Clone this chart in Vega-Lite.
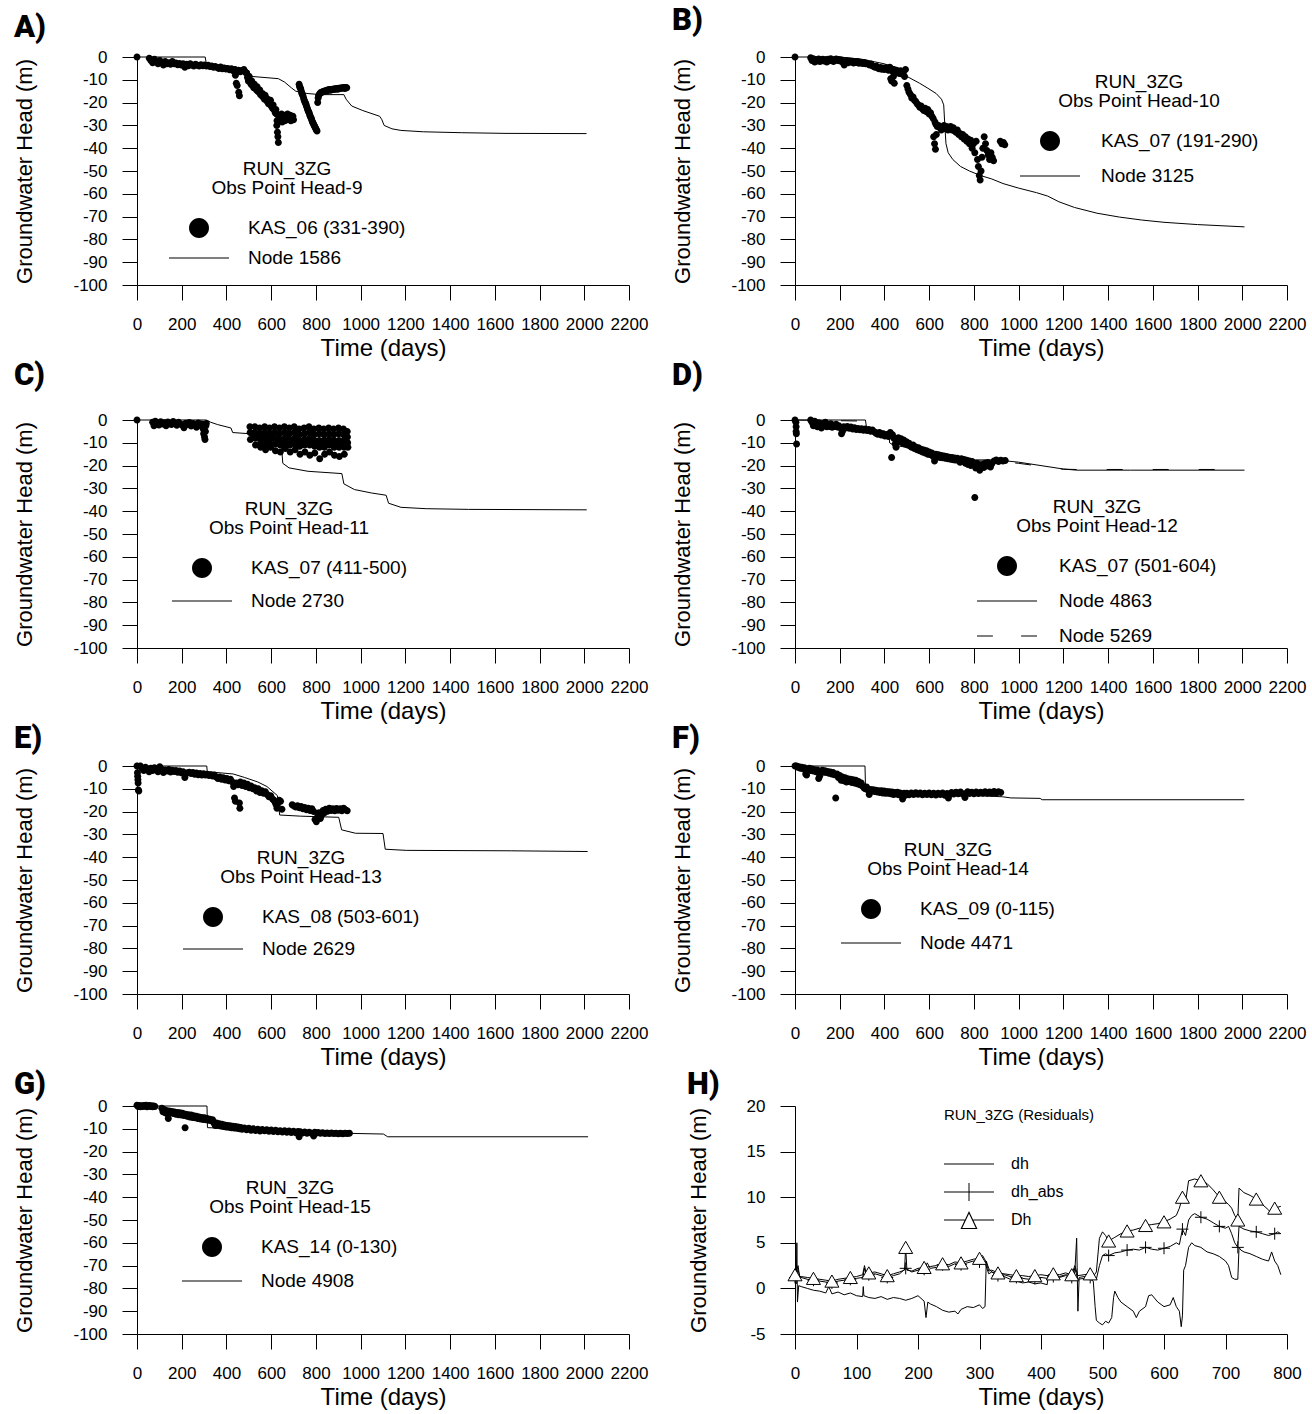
{
"$schema": "https://vega.github.io/schema/vega-lite/v6.json",
"background": "white",
"padding": {"left": 13, "top": 5, "right": 5, "bottom": 2},
"columns": 2,
"spacing": {"row": 0, "column": 23},
"resolve": {"scale": {"x": "independent", "y": "independent", "shape": "independent"}, "legend": {"shape": "independent"}},
"datasets": {
"A_mod": [{"t":0,"h":0},{"t":305,"h":0},{"t":310,"h":-3},{"t":400,"h":-4},{"t":480,"h":-5},{"t":500,"h":-6},{"t":510,"h":-8.5},{"t":632,"h":-9.5},{"t":660,"h":-11},{"t":690,"h":-13.5},{"t":710,"h":-15},{"t":760,"h":-16},{"t":820,"h":-16.5},{"t":925,"h":-16.5},{"t":935,"h":-18.5},{"t":960,"h":-21.5},{"t":1010,"h":-23.5},{"t":1085,"h":-26},{"t":1095,"h":-27.5},{"t":1105,"h":-30},{"t":1140,"h":-31.5},{"t":1180,"h":-32.2},{"t":1280,"h":-32.8},{"t":1450,"h":-33.2},{"t":1650,"h":-33.5},{"t":2010,"h":-33.6}],
"A_obs": [{"t":0,"h":0},{"t":55,"h":-0.5},{"t":62,"h":-1.5},{"t":70,"h":-2.5},{"t":78,"h":-1},{"t":86,"h":-2},{"t":94,"h":-3},{"t":102,"h":-1.5},{"t":110,"h":-2.5},{"t":118,"h":-3.5},{"t":126,"h":-2},{"t":134,"h":-3},{"t":142,"h":-2.5},{"t":150,"h":-3.2},{"t":158,"h":-2},{"t":166,"h":-3},{"t":174,"h":-2.6},{"t":182,"h":-3.4},{"t":190,"h":-2.8},{"t":198,"h":-3.5},{"t":206,"h":-3},{"t":214,"h":-4.5},{"t":222,"h":-3.2},{"t":230,"h":-3.8},{"t":238,"h":-3},{"t":246,"h":-3.5},{"t":254,"h":-3.9},{"t":262,"h":-3.2},{"t":270,"h":-3.6},{"t":278,"h":-4},{"t":286,"h":-3.4},{"t":294,"h":-3.8},{"t":302,"h":-3.5},{"t":310,"h":-4},{"t":318,"h":-3.6},{"t":326,"h":-4.2},{"t":334,"h":-4},{"t":342,"h":-4.5},{"t":350,"h":-4.2},{"t":358,"h":-4.6},{"t":366,"h":-5},{"t":374,"h":-4.4},{"t":382,"h":-5.2},{"t":390,"h":-4.8},{"t":398,"h":-5.3},{"t":406,"h":-5},{"t":414,"h":-5.6},{"t":422,"h":-5.2},{"t":430,"h":-6},{"t":438,"h":-5.5},{"t":440,"h":-8},{"t":444,"h":-11.5},{"t":446,"h":-6.3},{"t":448,"h":-12.5},{"t":454,"h":-5.8},{"t":455,"h":-15.5},{"t":458,"h":-17},{"t":462,"h":-6.5},{"t":470,"h":-6},{"t":478,"h":-5.5},{"t":486,"h":-6.8},{"t":490,"h":-7},{"t":494,"h":-9},{"t":498,"h":-10.5},{"t":502,"h":-8.5},{"t":506,"h":-11},{"t":510,"h":-12},{"t":513,"h":-10.5},{"t":516,"h":-12.5},{"t":522,"h":-13.5},{"t":525,"h":-12},{"t":528,"h":-13},{"t":534,"h":-14.5},{"t":537,"h":-13},{"t":540,"h":-15},{"t":546,"h":-15.5},{"t":549,"h":-14.5},{"t":552,"h":-16.5},{"t":558,"h":-17},{"t":561,"h":-16},{"t":564,"h":-17.5},{"t":570,"h":-18.5},{"t":573,"h":-16.8},{"t":576,"h":-18},{"t":582,"h":-19.5},{"t":585,"h":-18.5},{"t":588,"h":-20.5},{"t":594,"h":-20},{"t":597,"h":-19},{"t":600,"h":-21.5},{"t":606,"h":-22.5},{"t":609,"h":-21},{"t":612,"h":-23},{"t":618,"h":-24.5},{"t":621,"h":-23},{"t":624,"h":-25},{"t":625,"h":-30},{"t":626,"h":-28},{"t":628,"h":-33},{"t":630,"h":-35},{"t":632,"h":-37.5},{"t":634,"h":-26},{"t":637,"h":-28},{"t":640,"h":-26.5},{"t":646,"h":-25},{"t":649,"h":-28.5},{"t":652,"h":-27},{"t":658,"h":-25.5},{"t":661,"h":-28},{"t":664,"h":-26.5},{"t":670,"h":-27.5},{"t":673,"h":-25},{"t":676,"h":-26},{"t":682,"h":-27},{"t":685,"h":-25.5},{"t":688,"h":-28},{"t":694,"h":-27},{"t":697,"h":-26},{"t":700,"h":-27.5},{"t":725,"h":-12},{"t":727,"h":-13},{"t":730,"h":-13.5},{"t":732,"h":-14},{"t":735,"h":-15},{"t":737,"h":-16},{"t":740,"h":-16.5},{"t":742,"h":-17},{"t":745,"h":-18},{"t":747,"h":-18.8},{"t":750,"h":-19.5},{"t":752,"h":-20},{"t":755,"h":-20.5},{"t":757,"h":-21.3},{"t":760,"h":-22},{"t":762,"h":-22.8},{"t":765,"h":-23.5},{"t":767,"h":-24},{"t":770,"h":-24.5},{"t":772,"h":-25.3},{"t":775,"h":-26},{"t":777,"h":-26.5},{"t":780,"h":-27},{"t":782,"h":-27.8},{"t":785,"h":-28.5},{"t":787,"h":-29},{"t":790,"h":-29.5},{"t":792,"h":-30},{"t":795,"h":-30.5},{"t":797,"h":-31},{"t":800,"h":-31.5},{"t":802,"h":-32},{"t":805,"h":-32.5},{"t":808,"h":-20},{"t":810,"h":-18},{"t":812,"h":-17},{"t":815,"h":-16.5},{"t":818,"h":-16},{"t":822,"h":-15.6},{"t":826,"h":-15.5},{"t":830,"h":-15.2},{"t":834,"h":-15.2},{"t":838,"h":-14.9},{"t":842,"h":-15},{"t":846,"h":-14.7},{"t":850,"h":-14.8},{"t":854,"h":-14.4},{"t":858,"h":-14.5},{"t":862,"h":-14.3},{"t":866,"h":-14.6},{"t":870,"h":-14.2},{"t":874,"h":-14.3},{"t":878,"h":-14},{"t":882,"h":-14.2},{"t":886,"h":-13.9},{"t":890,"h":-14},{"t":894,"h":-13.8},{"t":898,"h":-14.1},{"t":902,"h":-13.7},{"t":906,"h":-13.8},{"t":910,"h":-13.6},{"t":914,"h":-13.7},{"t":918,"h":-13.5},{"t":922,"h":-13.6},{"t":926,"h":-13.4},{"t":930,"h":-13.8},{"t":934,"h":-13.4},{"t":938,"h":-13.5}],
"B_mod": [{"t":0,"h":0},{"t":200,"h":0},{"t":300,"h":-1},{"t":400,"h":-3},{"t":460,"h":-5},{"t":500,"h":-8.5},{"t":557,"h":-11.5},{"t":594,"h":-13.7},{"t":631,"h":-16},{"t":655,"h":-18.5},{"t":665,"h":-21},{"t":670,"h":-30},{"t":675,"h":-38},{"t":685,"h":-42},{"t":706,"h":-45},{"t":740,"h":-48},{"t":780,"h":-50},{"t":830,"h":-52},{"t":880,"h":-53.5},{"t":930,"h":-55.5},{"t":1000,"h":-57.5},{"t":1080,"h":-59.5},{"t":1130,"h":-61},{"t":1180,"h":-63.5},{"t":1250,"h":-66},{"t":1350,"h":-68.5},{"t":1450,"h":-70.2},{"t":1550,"h":-71.5},{"t":1650,"h":-72.5},{"t":1800,"h":-73.5},{"t":2010,"h":-74.5}],
"B_obs": [{"t":0,"h":0},{"t":70,"h":-0.3},{"t":76,"h":-1.5},{"t":82,"h":-0.8},{"t":88,"h":-2.2},{"t":94,"h":-1.2},{"t":100,"h":-1.8},{"t":106,"h":-0.9},{"t":112,"h":-2},{"t":118,"h":-1.4},{"t":124,"h":-1},{"t":130,"h":-1.8},{"t":136,"h":-1.2},{"t":142,"h":-2.2},{"t":148,"h":-1},{"t":154,"h":-1.6},{"t":160,"h":-0.8},{"t":166,"h":-1.4},{"t":172,"h":-2},{"t":178,"h":-1.2},{"t":184,"h":-0.9},{"t":190,"h":-1.5},{"t":196,"h":-1.1},{"t":202,"h":-1.8},{"t":208,"h":-1.3},{"t":214,"h":-2.4},{"t":220,"h":-3.5},{"t":226,"h":-2.2},{"t":232,"h":-1.6},{"t":238,"h":-2.5},{"t":244,"h":-1.8},{"t":250,"h":-2.2},{"t":256,"h":-1.9},{"t":262,"h":-2.6},{"t":268,"h":-2.1},{"t":274,"h":-2.4},{"t":280,"h":-2},{"t":286,"h":-2.7},{"t":292,"h":-2.3},{"t":298,"h":-2.6},{"t":304,"h":-2.8},{"t":310,"h":-2.4},{"t":316,"h":-3},{"t":322,"h":-2.7},{"t":328,"h":-3.2},{"t":334,"h":-3.5},{"t":340,"h":-3.1},{"t":346,"h":-3.8},{"t":352,"h":-4.2},{"t":358,"h":-4.5},{"t":364,"h":-4.1},{"t":370,"h":-4.8},{"t":376,"h":-5.2},{"t":382,"h":-4.6},{"t":388,"h":-5.4},{"t":394,"h":-4.8},{"t":400,"h":-5.5},{"t":406,"h":-4.7},{"t":412,"h":-5.2},{"t":418,"h":-5.8},{"t":424,"h":-4.5},{"t":428,"h":-9.5},{"t":430,"h":-5.1},{"t":432,"h":-10.5},{"t":436,"h":-6.2},{"t":440,"h":-8.5},{"t":442,"h":-5.5},{"t":444,"h":-11.5},{"t":448,"h":-7},{"t":454,"h":-5.8},{"t":460,"h":-6.5},{"t":466,"h":-7.2},{"t":472,"h":-6},{"t":478,"h":-7.5},{"t":484,"h":-6.8},{"t":490,"h":-8.5},{"t":494,"h":-5.5},{"t":500,"h":-12.5},{"t":505,"h":-14},{"t":510,"h":-15.5},{"t":516,"h":-16.5},{"t":522,"h":-18},{"t":528,"h":-17.5},{"t":534,"h":-19},{"t":540,"h":-19.5},{"t":546,"h":-20.5},{"t":552,"h":-21},{"t":558,"h":-22},{"t":564,"h":-21.5},{"t":570,"h":-22.8},{"t":576,"h":-23.5},{"t":582,"h":-22.5},{"t":588,"h":-24},{"t":594,"h":-23},{"t":600,"h":-25},{"t":606,"h":-24.5},{"t":612,"h":-26},{"t":618,"h":-27},{"t":620,"h":-35},{"t":624,"h":-38},{"t":626,"h":-28.5},{"t":628,"h":-40.5},{"t":630,"h":-29.5},{"t":632,"h":-34},{"t":636,"h":-30.5},{"t":642,"h":-30},{"t":648,"h":-31},{"t":654,"h":-32},{"t":660,"h":-31},{"t":666,"h":-30},{"t":672,"h":-31.5},{"t":678,"h":-30.5},{"t":684,"h":-32},{"t":690,"h":-31.5},{"t":696,"h":-30.5},{"t":702,"h":-32},{"t":708,"h":-31},{"t":714,"h":-32.5},{"t":720,"h":-33},{"t":726,"h":-32},{"t":732,"h":-34},{"t":738,"h":-33.5},{"t":744,"h":-35},{"t":750,"h":-34},{"t":756,"h":-36},{"t":762,"h":-35},{"t":768,"h":-37},{"t":774,"h":-36},{"t":780,"h":-38},{"t":786,"h":-36.5},{"t":792,"h":-40},{"t":798,"h":-38},{"t":804,"h":-42},{"t":810,"h":-37},{"t":816,"h":-45},{"t":820,"h":-48},{"t":824,"h":-52},{"t":828,"h":-54},{"t":832,"h":-50},{"t":836,"h":-44},{"t":840,"h":-40},{"t":846,"h":-35},{"t":852,"h":-38},{"t":858,"h":-41},{"t":864,"h":-43},{"t":870,"h":-45},{"t":876,"h":-42},{"t":882,"h":-44},{"t":888,"h":-45.5},{"t":918,"h":-37},{"t":925,"h":-38},{"t":932,"h":-37.5},{"t":938,"h":-38.5}],
"C_mod": [{"t":0,"h":0},{"t":310,"h":0},{"t":330,"h":-1},{"t":360,"h":-2},{"t":420,"h":-3.5},{"t":428,"h":-5.5},{"t":500,"h":-6},{"t":576,"h":-7},{"t":620,"h":-8},{"t":645,"h":-10},{"t":652,"h":-19},{"t":680,"h":-21},{"t":765,"h":-22.5},{"t":916,"h":-23.5},{"t":925,"h":-28},{"t":972,"h":-30.5},{"t":1048,"h":-32},{"t":1114,"h":-33},{"t":1125,"h":-36.5},{"t":1180,"h":-38.3},{"t":1293,"h":-38.9},{"t":1482,"h":-39.2},{"t":2011,"h":-39.4}],
"C_obs": [{"t":0,"h":0},{"t":70,"h":-1},{"t":76,"h":-2.5},{"t":82,"h":-0.5},{"t":90,"h":-1.5},{"t":98,"h":-2.2},{"t":106,"h":-0.8},{"t":114,"h":-1.8},{"t":122,"h":-1.2},{"t":130,"h":-2.5},{"t":138,"h":-0.9},{"t":146,"h":-1.6},{"t":154,"h":-2},{"t":162,"h":-0.7},{"t":170,"h":-1.5},{"t":178,"h":-2.3},{"t":186,"h":-1},{"t":194,"h":-1.7},{"t":202,"h":-2.2},{"t":210,"h":-3.4},{"t":218,"h":-1.4},{"t":226,"h":-2},{"t":234,"h":-1.1},{"t":242,"h":-2.6},{"t":250,"h":-1.5},{"t":258,"h":-1.9},{"t":266,"h":-3.2},{"t":274,"h":-1.3},{"t":282,"h":-2.4},{"t":290,"h":-1.8},{"t":296,"h":-4},{"t":298,"h":-6},{"t":300,"h":-3},{"t":302,"h":-7.5},{"t":304,"h":-8.5},{"t":306,"h":-5},{"t":308,"h":-2.5},{"t":310,"h":-1.5},
{"t":505,"h":-3},{"t":506,"h":-5.5},{"t":507,"h":-8.5},{"t":516,"h":-6},
{"t":527,"h":-3},{"t":528,"h":-5.5},{"t":529,"h":-8},{"t":530,"h":-11},{"t":538,"h":-7},
{"t":549,"h":-3.5},{"t":550,"h":-6},{"t":551,"h":-8.5},{"t":552,"h":-10.5},{"t":553,"h":-12},{"t":560,"h":-8},
{"t":571,"h":-3},{"t":572,"h":-5.5},{"t":573,"h":-8},{"t":574,"h":-10.5},{"t":575,"h":-13},{"t":582,"h":-8},
{"t":593,"h":-3.5},{"t":594,"h":-6},{"t":595,"h":-8.5},{"t":596,"h":-10.5},{"t":597,"h":-12},{"t":604,"h":-7.5},
{"t":615,"h":-3},{"t":616,"h":-5.5},{"t":617,"h":-8},{"t":618,"h":-10.5},{"t":619,"h":-13.5},{"t":626,"h":-8.5},
{"t":637,"h":-3.5},{"t":638,"h":-6},{"t":639,"h":-8.5},{"t":640,"h":-11},{"t":641,"h":-14},{"t":648,"h":-9},
{"t":659,"h":-3},{"t":660,"h":-5.5},{"t":661,"h":-8},{"t":662,"h":-10.5},{"t":663,"h":-12.5},{"t":670,"h":-8},
{"t":681,"h":-3.5},{"t":682,"h":-6},{"t":683,"h":-8.5},{"t":684,"h":-11},{"t":685,"h":-14},{"t":692,"h":-9},
{"t":703,"h":-3},{"t":704,"h":-5.5},{"t":705,"h":-8},{"t":706,"h":-10.5},{"t":707,"h":-13},{"t":714,"h":-8.5},
{"t":725,"h":-4},{"t":726,"h":-6.5},{"t":727,"h":-9},{"t":728,"h":-11.5},{"t":729,"h":-15},{"t":736,"h":-9.5},
{"t":747,"h":-3.5},{"t":748,"h":-6},{"t":749,"h":-8.5},{"t":750,"h":-11},{"t":751,"h":-14},{"t":758,"h":-9},
{"t":769,"h":-3},{"t":770,"h":-5.5},{"t":771,"h":-8},{"t":772,"h":-11},{"t":773,"h":-15.5},{"t":780,"h":-10},
{"t":791,"h":-4},{"t":792,"h":-6.5},{"t":793,"h":-9},{"t":794,"h":-11.5},{"t":795,"h":-14.5},{"t":802,"h":-10},
{"t":813,"h":-3.5},{"t":814,"h":-6},{"t":815,"h":-9},{"t":816,"h":-12},{"t":817,"h":-17},{"t":824,"h":-11},
{"t":835,"h":-4},{"t":836,"h":-6.5},{"t":837,"h":-9},{"t":838,"h":-12},{"t":839,"h":-15},{"t":846,"h":-10},
{"t":857,"h":-3.5},{"t":858,"h":-6},{"t":859,"h":-8.5},{"t":860,"h":-11},{"t":861,"h":-14},{"t":868,"h":-10},
{"t":879,"h":-4},{"t":880,"h":-6.5},{"t":881,"h":-9},{"t":882,"h":-12},{"t":883,"h":-15.5},{"t":890,"h":-10.5},
{"t":901,"h":-3.5},{"t":902,"h":-6},{"t":903,"h":-9},{"t":904,"h":-12},{"t":905,"h":-16},{"t":912,"h":-10.5},
{"t":923,"h":-4},{"t":924,"h":-6.5},{"t":925,"h":-9},{"t":926,"h":-12},{"t":927,"h":-15},
{"t":940,"h":-5},{"t":941,"h":-7.5},{"t":942,"h":-10},{"t":943,"h":-12}],
"D_mod1": [{"t":0,"h":0},{"t":315,"h":0},{"t":320,"h":-3.5},{"t":400,"h":-5},{"t":420,"h":-6},{"t":423,"h":-10},{"t":440,"h":-11},{"t":500,"h":-12},{"t":600,"h":-14.5},{"t":700,"h":-16.5},{"t":800,"h":-17.5},{"t":900,"h":-17.5},{"t":1000,"h":-18.5},{"t":1100,"h":-20},{"t":1200,"h":-21.5},{"t":1260,"h":-22},{"t":1500,"h":-22},{"t":2010,"h":-22}],
"D_mod2": [{"t":0,"h":0},{"t":320,"h":-0.5},{"t":420,"h":-6.5},{"t":500,"h":-12.5},{"t":600,"h":-15},{"t":700,"h":-17},{"t":800,"h":-18},{"t":900,"h":-18},{"t":1000,"h":-19},{"t":1100,"h":-20.3},{"t":1200,"h":-21.6},{"t":1260,"h":-21.7},{"t":1500,"h":-21.7},{"t":2010,"h":-21.7}],
"D_obs": [{"t":0,"h":0},{"t":4,"h":-1},{"t":5,"h":-3},{"t":5,"h":-5},{"t":6,"h":-6},{"t":7,"h":-10.5},{"t":70,"h":0},{"t":76,"h":-1},{"t":82,"h":-2.5},{"t":88,"h":-0.5},{"t":94,"h":-1.8},{"t":100,"h":-3},{"t":106,"h":-1.2},{"t":112,"h":-2.2},{"t":118,"h":-3.5},{"t":124,"h":-1.5},{"t":130,"h":-2.5},{"t":136,"h":-1},{"t":142,"h":-3},{"t":148,"h":-2},{"t":154,"h":-2.8},{"t":160,"h":-1.6},{"t":166,"h":-3.2},{"t":172,"h":-2.3},{"t":178,"h":-2.8},{"t":184,"h":-1.9},{"t":190,"h":-3.1},{"t":196,"h":-2.5},{"t":202,"h":-3.4},{"t":208,"h":-6},{"t":212,"h":-5},{"t":218,"h":-3},{"t":226,"h":-3.5},{"t":234,"h":-2.8},{"t":242,"h":-3.6},{"t":250,"h":-3.1},{"t":258,"h":-4},{"t":266,"h":-3.4},{"t":274,"h":-4.2},{"t":282,"h":-3.7},{"t":290,"h":-4.3},{"t":298,"h":-3.8},{"t":306,"h":-4.5},{"t":314,"h":-4},{"t":322,"h":-4.6},{"t":330,"h":-4.2},{"t":338,"h":-4.9},{"t":346,"h":-4.4},{"t":354,"h":-5.2},{"t":362,"h":-5.8},{"t":370,"h":-6.3},{"t":378,"h":-5.5},{"t":386,"h":-6.6},{"t":394,"h":-6},{"t":402,"h":-7},{"t":410,"h":-6.4},{"t":418,"h":-7.2},{"t":426,"h":-5.5},{"t":432,"h":-16.5},{"t":436,"h":-6.5},{"t":442,"h":-8},{"t":448,"h":-10.5},{"t":452,"h":-12},{"t":456,"h":-9},{"t":462,"h":-7.8},{"t":468,"h":-9.5},{"t":474,"h":-8.2},{"t":480,"h":-10},{"t":486,"h":-8.8},{"t":492,"h":-10.5},{"t":498,"h":-9.5},{"t":504,"h":-11},{"t":510,"h":-10.2},{"t":516,"h":-11.5},{"t":522,"h":-12},{"t":528,"h":-11},{"t":534,"h":-12.5},{"t":540,"h":-11.8},{"t":546,"h":-13},{"t":552,"h":-12.2},{"t":558,"h":-13.5},{"t":564,"h":-12.8},{"t":570,"h":-14},{"t":576,"h":-13.2},{"t":582,"h":-14.5},{"t":588,"h":-13.5},{"t":594,"h":-15},{"t":600,"h":-14},{"t":606,"h":-15.2},{"t":612,"h":-14.5},{"t":618,"h":-16},{"t":624,"h":-18},{"t":630,"h":-15},{"t":636,"h":-16},{"t":642,"h":-15.2},{"t":648,"h":-16.4},{"t":654,"h":-15.6},{"t":660,"h":-16.6},{"t":666,"h":-15.8},{"t":672,"h":-16.8},{"t":678,"h":-16},{"t":684,"h":-17},{"t":690,"h":-16.3},{"t":696,"h":-17.2},{"t":702,"h":-16.5},{"t":708,"h":-17.4},{"t":714,"h":-16.7},{"t":720,"h":-17.6},{"t":726,"h":-16.8},{"t":732,"h":-17.5},{"t":738,"h":-18.5},{"t":744,"h":-17},{"t":750,"h":-18},{"t":756,"h":-17.3},{"t":762,"h":-19},{"t":768,"h":-17.6},{"t":774,"h":-19.5},{"t":780,"h":-18},{"t":786,"h":-20},{"t":792,"h":-18.2},{"t":798,"h":-19.5},{"t":804,"h":-34},{"t":808,"h":-21},{"t":814,"h":-19},{"t":820,"h":-20.5},{"t":826,"h":-22},{"t":832,"h":-21},{"t":838,"h":-19.5},{"t":844,"h":-20.8},{"t":850,"h":-19},{"t":856,"h":-20.2},{"t":862,"h":-18.6},{"t":868,"h":-19.8},{"t":874,"h":-20.6},{"t":880,"h":-19.2},{"t":890,"h":-18},{"t":900,"h":-17.5},{"t":910,"h":-18.2},{"t":920,"h":-17.6},{"t":930,"h":-18},{"t":940,"h":-17.8}],
"E_mod": [{"t":0,"h":0},{"t":312,"h":0},{"t":314,"h":-2.5},{"t":430,"h":-3.5},{"t":480,"h":-5},{"t":540,"h":-7},{"t":581,"h":-9},{"t":628,"h":-13},{"t":638,"h":-21.5},{"t":732,"h":-22},{"t":902,"h":-22.5},{"t":915,"h":-28},{"t":977,"h":-29.5},{"t":1100,"h":-29.6},{"t":1110,"h":-36.5},{"t":1204,"h":-37},{"t":1676,"h":-37.2},{"t":2015,"h":-37.5}],
"E_obs": [{"t":0,"h":0},{"t":2,"h":-3},{"t":3,"h":-4.5},{"t":4,"h":-6},{"t":5,"h":-7.5},{"t":6,"h":-10.5},{"t":8,"h":-11},{"t":15,"h":0},{"t":22,"h":-1},{"t":30,"h":-2},{"t":38,"h":-0.5},{"t":46,"h":-1.5},{"t":54,"h":-2.5},{"t":62,"h":-1},{"t":70,"h":-2},{"t":78,"h":-0.8},{"t":86,"h":-1.7},{"t":94,"h":-2.5},{"t":102,"h":-0.3},{"t":110,"h":-1.4},{"t":118,"h":-2.8},{"t":126,"h":-1.8},{"t":134,"h":-2.2},{"t":142,"h":-1.5},{"t":150,"h":-2.6},{"t":158,"h":-1.9},{"t":166,"h":-2.4},{"t":174,"h":-2},{"t":182,"h":-2.7},{"t":190,"h":-2.2},{"t":198,"h":-3},{"t":206,"h":-2.5},{"t":214,"h":-5},{"t":218,"h":-3.5},{"t":226,"h":-3},{"t":234,"h":-2.7},{"t":242,"h":-3.3},{"t":250,"h":-2.9},{"t":258,"h":-3.6},{"t":266,"h":-3.1},{"t":274,"h":-3.8},{"t":282,"h":-3.3},{"t":290,"h":-3.9},{"t":298,"h":-3.4},{"t":306,"h":-4},{"t":314,"h":-3.6},{"t":322,"h":-4.2},{"t":330,"h":-3.8},{"t":338,"h":-4.4},{"t":346,"h":-4},{"t":354,"h":-4.8},{"t":362,"h":-5.5},{"t":370,"h":-4.8},{"t":378,"h":-5.8},{"t":386,"h":-5.2},{"t":394,"h":-6.1},{"t":402,"h":-5.5},{"t":410,"h":-6.5},{"t":418,"h":-5.8},{"t":426,"h":-7},{"t":432,"h":-9},{"t":436,"h":-14},{"t":440,"h":-15.5},{"t":444,"h":-7.5},{"t":452,"h":-8.2},{"t":458,"h":-16.2},{"t":460,"h":-18.5},{"t":462,"h":-7},{"t":470,"h":-8.5},{"t":478,"h":-7.5},{"t":486,"h":-9},{"t":494,"h":-8},{"t":502,"h":-9.5},{"t":510,"h":-8.8},{"t":518,"h":-10},{"t":526,"h":-9.5},{"t":534,"h":-11},{"t":542,"h":-10},{"t":550,"h":-11.6},{"t":558,"h":-10.8},{"t":566,"h":-12},{"t":574,"h":-11.3},{"t":582,"h":-12.5},{"t":590,"h":-13.5},{"t":598,"h":-13},{"t":606,"h":-14.5},{"t":612,"h":-15},{"t":618,"h":-16},{"t":622,"h":-17},{"t":626,"h":-18.5},{"t":630,"h":-16.5},{"t":636,"h":-15},{"t":642,"h":-15.5},{"t":648,"h":-19},{"t":694,"h":-17},{"t":702,"h":-17.5},{"t":710,"h":-18},{"t":718,"h":-17.4},{"t":726,"h":-18.3},{"t":734,"h":-17.8},{"t":742,"h":-18.8},{"t":750,"h":-18.2},{"t":758,"h":-19.2},{"t":766,"h":-18.5},{"t":774,"h":-19.5},{"t":782,"h":-18.8},{"t":790,"h":-20},{"t":796,"h":-23.5},{"t":802,"h":-24.5},{"t":808,"h":-22},{"t":814,"h":-20.5},{"t":820,"h":-23},{"t":826,"h":-21.5},{"t":832,"h":-19.5},{"t":838,"h":-20.5},{"t":844,"h":-19},{"t":852,"h":-19.8},{"t":860,"h":-18.5},{"t":868,"h":-19.5},{"t":876,"h":-18.8},{"t":884,"h":-19.6},{"t":892,"h":-18.6},{"t":900,"h":-19.4},{"t":908,"h":-18.8},{"t":916,"h":-19.6},{"t":924,"h":-18.5},{"t":932,"h":-19.2},{"t":940,"h":-19.6}],
"F_mod": [{"t":0,"h":0},{"t":313,"h":0},{"t":315,"h":-8},{"t":330,"h":-9.5},{"t":400,"h":-11},{"t":500,"h":-12},{"t":700,"h":-12.5},{"t":928,"h":-13.5},{"t":965,"h":-14},{"t":1096,"h":-14.2},{"t":1105,"h":-14.8},{"t":2009,"h":-14.8}],
"F_obs": [{"t":0,"h":0},{"t":6,"h":0},{"t":12,"h":-0.5},{"t":18,"h":-0.3},{"t":24,"h":-1},{"t":30,"h":-0.6},{"t":36,"h":-1.2},{"t":42,"h":-0.8},{"t":48,"h":-3.5},{"t":52,"h":-4},{"t":58,"h":-1.5},{"t":64,"h":-1},{"t":70,"h":-2},{"t":76,"h":-1.3},{"t":82,"h":-2.2},{"t":88,"h":-1.6},{"t":94,"h":-2.5},{"t":100,"h":-1.8},{"t":106,"h":-5.5},{"t":110,"h":-4.5},{"t":116,"h":-2.4},{"t":122,"h":-1.9},{"t":128,"h":-2.7},{"t":134,"h":-2.1},{"t":140,"h":-2.9},{"t":146,"h":-2.4},{"t":152,"h":-3.2},{"t":158,"h":-2.6},{"t":164,"h":-3.5},{"t":170,"h":-2.8},{"t":176,"h":-3.8},{"t":182,"h":-14},{"t":188,"h":-3.5},{"t":194,"h":-5},{"t":200,"h":-4.2},{"t":206,"h":-6.2},{"t":212,"h":-4.8},{"t":218,"h":-6.5},{"t":224,"h":-5.2},{"t":230,"h":-7},{"t":236,"h":-5.6},{"t":242,"h":-6.8},{"t":248,"h":-5.8},{"t":254,"h":-7.2},{"t":260,"h":-6},{"t":266,"h":-7.5},{"t":272,"h":-6.3},{"t":278,"h":-7.8},{"t":284,"h":-6.8},{"t":290,"h":-8.2},{"t":296,"h":-7.4},{"t":302,"h":-8.8},{"t":308,"h":-9.5},{"t":314,"h":-10},{"t":320,"h":-9.2},{"t":326,"h":-10.5},{"t":332,"h":-12.5},{"t":338,"h":-10.3},{"t":344,"h":-11},{"t":350,"h":-10.4},{"t":356,"h":-11.2},{"t":362,"h":-10.6},{"t":368,"h":-11.4},{"t":374,"h":-10.8},{"t":380,"h":-11.6},{"t":386,"h":-10.9},{"t":392,"h":-11.8},{"t":398,"h":-11},{"t":404,"h":-11.9},{"t":410,"h":-11.2},{"t":416,"h":-12},{"t":422,"h":-11.3},{"t":428,"h":-12.2},{"t":434,"h":-11.4},{"t":440,"h":-12.5},{"t":446,"h":-11.6},{"t":452,"h":-12.3},{"t":458,"h":-11.5},{"t":464,"h":-12.6},{"t":470,"h":-11.8},{"t":476,"h":-12.4},{"t":481,"h":-14.5},{"t":488,"h":-12},{"t":494,"h":-12.8},{"t":500,"h":-11.9},{"t":510,"h":-12.6},{"t":520,"h":-11.8},{"t":530,"h":-12.5},{"t":540,"h":-11.7},{"t":550,"h":-12.4},{"t":560,"h":-11.8},{"t":570,"h":-12.6},{"t":580,"h":-11.9},{"t":590,"h":-12.5},{"t":600,"h":-11.8},{"t":610,"h":-12.6},{"t":620,"h":-11.9},{"t":630,"h":-12.7},{"t":640,"h":-12},{"t":650,"h":-12.5},{"t":660,"h":-11.8},{"t":670,"h":-12.8},{"t":680,"h":-12.1},{"t":686,"h":-14},{"t":692,"h":-12.5},{"t":700,"h":-11.6},{"t":710,"h":-12.3},{"t":720,"h":-11.5},{"t":730,"h":-12.2},{"t":740,"h":-11.4},{"t":750,"h":-12.3},{"t":760,"h":-13.8},{"t":766,"h":-12},{"t":772,"h":-11.3},{"t":780,"h":-12.1},{"t":790,"h":-11.5},{"t":800,"h":-12.2},{"t":810,"h":-11.4},{"t":820,"h":-12.1},{"t":830,"h":-11.5},{"t":840,"h":-12},{"t":850,"h":-11.3},{"t":860,"h":-12},{"t":870,"h":-11.4},{"t":880,"h":-11.9},{"t":890,"h":-11.2},{"t":900,"h":-11.8},{"t":910,"h":-11.3},{"t":920,"h":-11.6}],
"G_mod": [{"t":0,"h":0},{"t":313,"h":0},{"t":315,"h":-9.5},{"t":460,"h":-10},{"t":700,"h":-11},{"t":951,"h":-12},{"t":1102,"h":-12.3},{"t":1121,"h":-13.5},{"t":2017,"h":-13.5}],
"G_obs": [{"t":0,"h":0.3},{"t":5,"h":-0.2},{"t":10,"h":0.2},{"t":15,"h":-0.3},{"t":20,"h":0.1},{"t":25,"h":-0.2},{"t":30,"h":0.2},{"t":35,"h":-0.1},{"t":40,"h":0.3},{"t":45,"h":-0.3},{"t":50,"h":0},{"t":55,"h":0.2},{"t":60,"h":-0.2},{"t":65,"h":0.1},{"t":70,"h":-0.3},{"t":75,"h":0},{"t":80,"h":-0.2},{"t":111,"h":-1},{"t":116,"h":-2.5},{"t":121,"h":-1.5},{"t":126,"h":-3},{"t":131,"h":-2},{"t":136,"h":-3.5},{"t":140,"h":-5.5},{"t":144,"h":-2.2},{"t":150,"h":-3},{"t":156,"h":-2.4},{"t":162,"h":-3.3},{"t":168,"h":-2.6},{"t":174,"h":-3.6},{"t":180,"h":-2.8},{"t":186,"h":-3.8},{"t":192,"h":-3},{"t":198,"h":-4},{"t":204,"h":-3.2},{"t":210,"h":-4.2},{"t":215,"h":-9.5},{"t":218,"h":-3.6},{"t":224,"h":-4.5},{"t":230,"h":-3.8},{"t":236,"h":-4.8},{"t":242,"h":-4},{"t":248,"h":-5},{"t":254,"h":-4.3},{"t":260,"h":-5.2},{"t":266,"h":-4.5},{"t":272,"h":-5.5},{"t":278,"h":-4.8},{"t":284,"h":-5.7},{"t":290,"h":-5},{"t":296,"h":-5.9},{"t":302,"h":-5.2},{"t":308,"h":-6},{"t":314,"h":-5.5},{"t":320,"h":-6.2},{"t":326,"h":-5.8},{"t":332,"h":-6.5},{"t":338,"h":-6},{"t":344,"h":-7.5},{"t":350,"h":-8.5},{"t":356,"h":-7.5},{"t":362,"h":-8.5},{"t":368,"h":-7.8},{"t":374,"h":-8.8},{"t":380,"h":-8},{"t":386,"h":-9},{"t":392,"h":-8.3},{"t":398,"h":-9.2},{"t":404,"h":-8.5},{"t":410,"h":-9.3},{"t":416,"h":-8.7},{"t":422,"h":-9.5},{"t":428,"h":-8.9},{"t":434,"h":-9.6},{"t":440,"h":-9},{"t":446,"h":-9.8},{"t":452,"h":-9.2},{"t":458,"h":-10},{"t":464,"h":-9.4},{"t":470,"h":-10.2},{"t":480,"h":-9.6},{"t":490,"h":-10.4},{"t":500,"h":-9.8},{"t":510,"h":-10.6},{"t":520,"h":-10},{"t":530,"h":-10.8},{"t":540,"h":-10.2},{"t":550,"h":-11},{"t":560,"h":-10.3},{"t":570,"h":-10.9},{"t":580,"h":-10.4},{"t":590,"h":-11.1},{"t":600,"h":-10.5},{"t":610,"h":-11.2},{"t":620,"h":-10.6},{"t":630,"h":-11.3},{"t":640,"h":-10.8},{"t":650,"h":-11.4},{"t":660,"h":-10.9},{"t":670,"h":-11.5},{"t":680,"h":-11},{"t":690,"h":-11.6},{"t":700,"h":-11.1},{"t":710,"h":-11.7},{"t":720,"h":-11.2},{"t":725,"h":-13.5},{"t":730,"h":-11.3},{"t":740,"h":-11.8},{"t":750,"h":-11.4},{"t":760,"h":-11.9},{"t":770,"h":-11.5},{"t":780,"h":-11.9},{"t":790,"h":-13.2},{"t":795,"h":-11.5},{"t":800,"h":-12},{"t":810,"h":-11.6},{"t":820,"h":-12},{"t":830,"h":-11.7},{"t":840,"h":-12.1},{"t":850,"h":-11.8},{"t":860,"h":-12.1},{"t":870,"h":-11.8},{"t":880,"h":-12.1},{"t":890,"h":-11.9},{"t":900,"h":-12.2},{"t":910,"h":-11.9},{"t":920,"h":-12.2},{"t":930,"h":-12},{"t":940,"h":-12.1},{"t":950,"h":-11.9}],
"H": [
{"s":"dh","t":0,"h":1},{"s":"dh","t":2,"h":0.5},{"s":"dh","t":3,"h":5},{"s":"dh","t":4,"h":-1.5},{"s":"dh","t":6,"h":0.3},{"s":"dh","t":10,"h":0.2},{"s":"dh","t":20,"h":0},{"s":"dh","t":30,"h":-0.2},{"s":"dh","t":40,"h":-0.3},{"s":"dh","t":50,"h":-0.5},{"s":"dh","t":55,"h":0.2},{"s":"dh","t":60,"h":-0.6},{"s":"dh","t":70,"h":-0.4},{"s":"dh","t":80,"h":-0.7},{"s":"dh","t":90,"h":-0.5},{"s":"dh","t":100,"h":-0.8},{"s":"dh","t":110,"h":-0.9},{"s":"dh","t":111,"h":0.2},{"s":"dh","t":112,"h":-0.8},{"s":"dh","t":120,"h":-1},{"s":"dh","t":130,"h":-1.1},{"s":"dh","t":140,"h":-0.9},{"s":"dh","t":150,"h":-1.2},{"s":"dh","t":160,"h":-1},{"s":"dh","t":170,"h":-1.1},{"s":"dh","t":180,"h":-1.3},{"s":"dh","t":190,"h":-1.1},{"s":"dh","t":200,"h":-0.8},{"s":"dh","t":210,"h":-1.4},{"s":"dh","t":213,"h":-3.2},{"s":"dh","t":216,"h":-1.5},{"s":"dh","t":220,"h":-1.7},{"s":"dh","t":230,"h":-2},{"s":"dh","t":240,"h":-2.4},{"s":"dh","t":250,"h":-2.6},{"s":"dh","t":260,"h":-2.5},{"s":"dh","t":265,"h":-2.8},{"s":"dh","t":270,"h":-2.3},{"s":"dh","t":280,"h":-2},{"s":"dh","t":290,"h":-2.1},{"s":"dh","t":300,"h":-1.8},{"s":"dh","t":305,"h":-2.2},{"s":"dh","t":309,"h":-2},{"s":"dh","t":311,"h":3},{"s":"dh","t":315,"h":2.2},{"s":"dh","t":320,"h":1.8},{"s":"dh","t":330,"h":1.5},{"s":"dh","t":340,"h":1.3},{"s":"dh","t":350,"h":1},{"s":"dh","t":360,"h":0.8},{"s":"dh","t":370,"h":0.6},{"s":"dh","t":380,"h":0.7},{"s":"dh","t":390,"h":0.5},{"s":"dh","t":400,"h":0.6},{"s":"dh","t":410,"h":0.4},{"s":"dh","t":412,"h":1.5},{"s":"dh","t":420,"h":1.6},{"s":"dh","t":430,"h":1.3},{"s":"dh","t":440,"h":1.5},{"s":"dh","t":450,"h":1.4},{"s":"dh","t":455,"h":1.8},{"s":"dh","t":458,"h":5.5},{"s":"dh","t":460,"h":-2.5},{"s":"dh","t":462,"h":1.2},{"s":"dh","t":470,"h":1.3},{"s":"dh","t":480,"h":1},{"s":"dh","t":485,"h":0.8},{"s":"dh","t":488,"h":-2},{"s":"dh","t":490,"h":-3.5},{"s":"dh","t":495,"h":-3.8},{"s":"dh","t":500,"h":-4},{"s":"dh","t":505,"h":-3.6},{"s":"dh","t":510,"h":-3.8},{"s":"dh","t":515,"h":-3.2},{"s":"dh","t":518,"h":-1},{"s":"dh","t":520,"h":-0.3},{"s":"dh","t":525,"h":-1},{"s":"dh","t":530,"h":-1.5},{"s":"dh","t":540,"h":-2},{"s":"dh","t":550,"h":-2.5},{"s":"dh","t":555,"h":-3.2},{"s":"dh","t":560,"h":-2.5},{"s":"dh","t":570,"h":-2},{"s":"dh","t":575,"h":-0.8},{"s":"dh","t":580,"h":-0.7},{"s":"dh","t":590,"h":-1.5},{"s":"dh","t":600,"h":-2},{"s":"dh","t":610,"h":-1.8},{"s":"dh","t":615,"h":-1},{"s":"dh","t":620,"h":-2},{"s":"dh","t":625,"h":-2.5},{"s":"dh","t":628,"h":-4.2},{"s":"dh","t":630,"h":-3},{"s":"dh","t":632,"h":2},{"s":"dh","t":635,"h":2.5},{"s":"dh","t":640,"h":4.5},{"s":"dh","t":645,"h":5},{"s":"dh","t":650,"h":4.7},{"s":"dh","t":660,"h":4.5},{"s":"dh","t":670,"h":4},{"s":"dh","t":680,"h":3.8},{"s":"dh","t":690,"h":3.5},{"s":"dh","t":700,"h":3},{"s":"dh","t":705,"h":2.5},{"s":"dh","t":710,"h":1.2},{"s":"dh","t":715,"h":1},{"s":"dh","t":720,"h":1},{"s":"dh","t":722,"h":4.5},{"s":"dh","t":725,"h":4.2},{"s":"dh","t":730,"h":4},{"s":"dh","t":740,"h":3.8},{"s":"dh","t":750,"h":3.5},{"s":"dh","t":760,"h":3.2},{"s":"dh","t":770,"h":3},{"s":"dh","t":775,"h":4},{"s":"dh","t":780,"h":3},{"s":"dh","t":785,"h":2.5},{"s":"dh","t":790,"h":1.5},
{"s":"dh_abs","t":0,"h":1.2},{"s":"dh_abs","t":5,"h":2.5},{"s":"dh_abs","t":8,"h":1},{"s":"dh_abs","t":10,"h":1.2},{"s":"dh_abs","t":20,"h":1},{"s":"dh_abs","t":30,"h":0.9},{"s":"dh_abs","t":40,"h":0.8},{"s":"dh_abs","t":50,"h":0.7},{"s":"dh_abs","t":60,"h":0.6},{"s":"dh_abs","t":70,"h":0.8},{"s":"dh_abs","t":80,"h":0.9},{"s":"dh_abs","t":90,"h":1},{"s":"dh_abs","t":100,"h":1.1},{"s":"dh_abs","t":110,"h":1.2},{"s":"dh_abs","t":113,"h":2.2},{"s":"dh_abs","t":116,"h":1.4},{"s":"dh_abs","t":120,"h":1.5},{"s":"dh_abs","t":130,"h":1.6},{"s":"dh_abs","t":140,"h":1.4},{"s":"dh_abs","t":150,"h":1.2},{"s":"dh_abs","t":160,"h":1.4},{"s":"dh_abs","t":170,"h":1.6},{"s":"dh_abs","t":180,"h":2.2},{"s":"dh_abs","t":190,"h":1.8},{"s":"dh_abs","t":200,"h":2},{"s":"dh_abs","t":210,"h":2.1},{"s":"dh_abs","t":215,"h":2.8},{"s":"dh_abs","t":220,"h":2.2},{"s":"dh_abs","t":230,"h":2.3},{"s":"dh_abs","t":240,"h":2.6},{"s":"dh_abs","t":250,"h":2.4},{"s":"dh_abs","t":260,"h":2.7},{"s":"dh_abs","t":270,"h":2.6},{"s":"dh_abs","t":280,"h":2.8},{"s":"dh_abs","t":290,"h":3},{"s":"dh_abs","t":300,"h":2.9},{"s":"dh_abs","t":305,"h":3.1},{"s":"dh_abs","t":310,"h":2.6},{"s":"dh_abs","t":315,"h":1.6},{"s":"dh_abs","t":320,"h":1.8},{"s":"dh_abs","t":330,"h":1.4},{"s":"dh_abs","t":340,"h":1.5},{"s":"dh_abs","t":350,"h":1.3},{"s":"dh_abs","t":360,"h":1.2},{"s":"dh_abs","t":370,"h":1.1},{"s":"dh_abs","t":380,"h":1},{"s":"dh_abs","t":390,"h":1.1},{"s":"dh_abs","t":400,"h":1.2},{"s":"dh_abs","t":410,"h":1.1},{"s":"dh_abs","t":420,"h":1.3},{"s":"dh_abs","t":430,"h":1.2},{"s":"dh_abs","t":440,"h":1.4},{"s":"dh_abs","t":450,"h":1.2},{"s":"dh_abs","t":455,"h":2.2},{"s":"dh_abs","t":460,"h":1},{"s":"dh_abs","t":470,"h":1.1},{"s":"dh_abs","t":480,"h":1.2},{"s":"dh_abs","t":485,"h":1},{"s":"dh_abs","t":490,"h":1},{"s":"dh_abs","t":495,"h":2.5},{"s":"dh_abs","t":500,"h":3.6},{"s":"dh_abs","t":505,"h":3.8},{"s":"dh_abs","t":510,"h":3.6},{"s":"dh_abs","t":520,"h":3.9},{"s":"dh_abs","t":530,"h":4},{"s":"dh_abs","t":540,"h":4.2},{"s":"dh_abs","t":550,"h":4.3},{"s":"dh_abs","t":560,"h":4.2},{"s":"dh_abs","t":570,"h":4.5},{"s":"dh_abs","t":580,"h":4.3},{"s":"dh_abs","t":590,"h":4.2},{"s":"dh_abs","t":600,"h":4.4},{"s":"dh_abs","t":610,"h":4.6},{"s":"dh_abs","t":620,"h":5},{"s":"dh_abs","t":625,"h":4.8},{"s":"dh_abs","t":630,"h":6.5},{"s":"dh_abs","t":635,"h":5.8},{"s":"dh_abs","t":640,"h":7.5},{"s":"dh_abs","t":645,"h":8},{"s":"dh_abs","t":650,"h":8.2},{"s":"dh_abs","t":660,"h":7.8},{"s":"dh_abs","t":670,"h":7.6},{"s":"dh_abs","t":680,"h":7.2},{"s":"dh_abs","t":690,"h":6.8},{"s":"dh_abs","t":700,"h":6.6},{"s":"dh_abs","t":705,"h":6.8},{"s":"dh_abs","t":710,"h":6},{"s":"dh_abs","t":715,"h":5},{"s":"dh_abs","t":720,"h":4.5},{"s":"dh_abs","t":722,"h":6.8},{"s":"dh_abs","t":730,"h":6.5},{"s":"dh_abs","t":740,"h":6.3},{"s":"dh_abs","t":750,"h":6.2},{"s":"dh_abs","t":760,"h":6},{"s":"dh_abs","t":770,"h":5.8},{"s":"dh_abs","t":780,"h":6},{"s":"dh_abs","t":785,"h":6.2},{"s":"dh_abs","t":790,"h":6},
{"s":"Dh","t":0,"h":1.5},{"s":"Dh","t":5,"h":2},{"s":"Dh","t":8,"h":1.3},{"s":"Dh","t":10,"h":1.3},{"s":"Dh","t":20,"h":1.2},{"s":"Dh","t":30,"h":1.1},{"s":"Dh","t":40,"h":1},{"s":"Dh","t":50,"h":0.9},{"s":"Dh","t":60,"h":0.8},{"s":"Dh","t":70,"h":1},{"s":"Dh","t":80,"h":1.1},{"s":"Dh","t":90,"h":1.2},{"s":"Dh","t":100,"h":1.3},{"s":"Dh","t":110,"h":1.5},{"s":"Dh","t":113,"h":2.5},{"s":"Dh","t":116,"h":1.6},{"s":"Dh","t":120,"h":1.7},{"s":"Dh","t":130,"h":1.8},{"s":"Dh","t":140,"h":1.6},{"s":"Dh","t":150,"h":1.4},{"s":"Dh","t":160,"h":1.6},{"s":"Dh","t":170,"h":1.8},{"s":"Dh","t":178,"h":2},{"s":"Dh","t":180,"h":4.5},{"s":"Dh","t":182,"h":2},{"s":"Dh","t":190,"h":1.9},{"s":"Dh","t":200,"h":2.2},{"s":"Dh","t":210,"h":2.3},{"s":"Dh","t":220,"h":2.4},{"s":"Dh","t":230,"h":2.5},{"s":"Dh","t":240,"h":2.7},{"s":"Dh","t":250,"h":2.6},{"s":"Dh","t":260,"h":2.9},{"s":"Dh","t":270,"h":2.8},{"s":"Dh","t":280,"h":3},{"s":"Dh","t":290,"h":3.2},{"s":"Dh","t":300,"h":3.3},{"s":"Dh","t":305,"h":3.6},{"s":"Dh","t":310,"h":3},{"s":"Dh","t":315,"h":1.9},{"s":"Dh","t":320,"h":2},{"s":"Dh","t":330,"h":1.7},{"s":"Dh","t":340,"h":1.6},{"s":"Dh","t":350,"h":1.5},{"s":"Dh","t":360,"h":1.4},{"s":"Dh","t":370,"h":1.4},{"s":"Dh","t":380,"h":1.3},{"s":"Dh","t":390,"h":1.4},{"s":"Dh","t":400,"h":1.5},{"s":"Dh","t":410,"h":1.4},{"s":"Dh","t":420,"h":1.6},{"s":"Dh","t":430,"h":1.5},{"s":"Dh","t":440,"h":1.7},{"s":"Dh","t":450,"h":1.5},{"s":"Dh","t":455,"h":2.5},{"s":"Dh","t":460,"h":1.4},{"s":"Dh","t":470,"h":1.5},{"s":"Dh","t":480,"h":1.6},{"s":"Dh","t":485,"h":1.3},{"s":"Dh","t":490,"h":1.8},{"s":"Dh","t":495,"h":5.5},{"s":"Dh","t":500,"h":6.2},{"s":"Dh","t":505,"h":5.8},{"s":"Dh","t":510,"h":5.2},{"s":"Dh","t":520,"h":5.6},{"s":"Dh","t":530,"h":6},{"s":"Dh","t":540,"h":6.3},{"s":"Dh","t":550,"h":6.4},{"s":"Dh","t":560,"h":6.6},{"s":"Dh","t":570,"h":6.9},{"s":"Dh","t":580,"h":7},{"s":"Dh","t":590,"h":7.1},{"s":"Dh","t":600,"h":7.3},{"s":"Dh","t":610,"h":7.6},{"s":"Dh","t":620,"h":8},{"s":"Dh","t":625,"h":8.8},{"s":"Dh","t":630,"h":10},{"s":"Dh","t":635,"h":9.5},{"s":"Dh","t":640,"h":11.8},{"s":"Dh","t":650,"h":12},{"s":"Dh","t":660,"h":11.8},{"s":"Dh","t":670,"h":11.5},{"s":"Dh","t":680,"h":10.8},{"s":"Dh","t":690,"h":10},{"s":"Dh","t":700,"h":9.5},{"s":"Dh","t":705,"h":9.2},{"s":"Dh","t":710,"h":8.8},{"s":"Dh","t":715,"h":8},{"s":"Dh","t":720,"h":7.5},{"s":"Dh","t":722,"h":11},{"s":"Dh","t":730,"h":10.5},{"s":"Dh","t":740,"h":10.2},{"s":"Dh","t":750,"h":9.8},{"s":"Dh","t":760,"h":9.2},{"s":"Dh","t":770,"h":8.6},{"s":"Dh","t":775,"h":8.2},{"s":"Dh","t":780,"h":8.8},{"s":"Dh","t":790,"h":9}
]
},
"concat": [
{"width": 492, "height": 228, "title": {"text": "A)", "offset": 4},
 "encoding": {"x": {"field": "t", "type": "quantitative", "scale": {"domain": [0, 2200], "nice": false}, "axis": {"values": [0,200,400,600,800,1000,1200,1400,1600,1800,2000,2200], "format": "d", "title": "Time (days)"}}, "y": {"field": "h", "type": "quantitative", "scale": {"domain": [-100, 0], "nice": false}, "axis": {"values": [-100,-90,-80,-70,-60,-50,-40,-30,-20,-10,0], "format": "d", "title": "Groundwater Head (m)"}}},
 "layer": [
  {"data": {"name": "A_mod"}, "mark": {"type": "line", "color": "black", "strokeWidth": 1}},
  {"data": {"name": "A_obs"}, "mark": {"type": "point", "filled": true, "color": "black", "size": 441, "opacity": 1},
   "encoding": {"shape": {"datum": "KAS_06 (331-390)", "type": "nominal", "scale": {"domain": ["KAS_06 (331-390)", "Node 1586"], "range": ["M-0.333,0A0.333,0.333,0,1,1,0.333,0A0.333,0.333,0,1,1,-0.333,0Z", "M-1,-0.018H1V0.018H-1Z"]}, "legend": {"title": ["RUN_3ZG", "Obs Point Head-9"], "orient": "none", "legendX": 32, "legendY": 103, "rowPadding": 8, "labelOffset": 19}}}}
 ]},
{"width": 492, "height": 228, "title": {"text": "B)", "offset": 11},
 "encoding": {"x": {"field": "t", "type": "quantitative", "scale": {"domain": [0, 2200], "nice": false}, "axis": {"values": [0,200,400,600,800,1000,1200,1400,1600,1800,2000,2200], "format": "d", "title": "Time (days)"}}, "y": {"field": "h", "type": "quantitative", "scale": {"domain": [-100, 0], "nice": false}, "axis": {"values": [-100,-90,-80,-70,-60,-50,-40,-30,-20,-10,0], "format": "d", "title": "Groundwater Head (m)"}}},
 "layer": [
  {"data": {"name": "B_mod"}, "mark": {"type": "line", "color": "black", "strokeWidth": 1}},
  {"data": {"name": "B_obs"}, "mark": {"type": "point", "filled": true, "color": "black", "size": 441, "opacity": 1},
   "encoding": {"shape": {"datum": "KAS_07 (191-290)", "type": "nominal", "scale": {"domain": ["KAS_07 (191-290)", "Node 3125"], "range": ["M-0.333,0A0.333,0.333,0,1,1,0.333,0A0.333,0.333,0,1,1,-0.333,0Z", "M-1,-0.018H1V0.018H-1Z"]}, "legend": {"title": ["RUN_3ZG", "Obs Point Head-10"], "orient": "none", "legendX": 225, "legendY": 16, "rowPadding": 13, "labelOffset": 21}}}}
 ]},
{"width": 492, "height": 228, "title": {"text": "C)", "offset": 19},
 "encoding": {"x": {"field": "t", "type": "quantitative", "scale": {"domain": [0, 2200], "nice": false}, "axis": {"values": [0,200,400,600,800,1000,1200,1400,1600,1800,2000,2200], "format": "d", "title": "Time (days)"}}, "y": {"field": "h", "type": "quantitative", "scale": {"domain": [-100, 0], "nice": false}, "axis": {"values": [-100,-90,-80,-70,-60,-50,-40,-30,-20,-10,0], "format": "d", "title": "Groundwater Head (m)"}}},
 "layer": [
  {"data": {"name": "C_mod"}, "mark": {"type": "line", "color": "black", "strokeWidth": 1}},
  {"data": {"name": "C_obs"}, "mark": {"type": "point", "filled": true, "color": "black", "size": 441, "opacity": 1},
   "encoding": {"shape": {"datum": "KAS_07 (411-500)", "type": "nominal", "scale": {"domain": ["KAS_07 (411-500)", "Node 2730"], "range": ["M-0.333,0A0.333,0.333,0,1,1,0.333,0A0.333,0.333,0,1,1,-0.333,0Z", "M-1,-0.018H1V0.018H-1Z"]}, "legend": {"title": ["RUN_3ZG", "Obs Point Head-11"], "orient": "none", "legendX": 35, "legendY": 80, "rowPadding": 11, "labelOffset": 19}}}}
 ]},
{"width": 492, "height": 228, "title": {"text": "D)", "offset": 19},
 "encoding": {"x": {"field": "t", "type": "quantitative", "scale": {"domain": [0, 2200], "nice": false}, "axis": {"values": [0,200,400,600,800,1000,1200,1400,1600,1800,2000,2200], "format": "d", "title": "Time (days)"}}, "y": {"field": "h", "type": "quantitative", "scale": {"domain": [-100, 0], "nice": false}, "axis": {"values": [-100,-90,-80,-70,-60,-50,-40,-30,-20,-10,0], "format": "d", "title": "Groundwater Head (m)"}}},
 "layer": [
  {"data": {"name": "D_mod2"}, "mark": {"type": "line", "color": "black", "strokeWidth": 1, "strokeDash": [16, 30]}},
  {"data": {"name": "D_mod1"}, "mark": {"type": "line", "color": "black", "strokeWidth": 1}},
  {"data": {"name": "D_obs"}, "mark": {"type": "point", "filled": true, "color": "black", "size": 441, "opacity": 1},
   "encoding": {"shape": {"datum": "KAS_07 (501-604)", "type": "nominal", "scale": {"domain": ["KAS_07 (501-604)", "Node 4863", "Node 5269"], "range": ["M-0.333,0A0.333,0.333,0,1,1,0.333,0A0.333,0.333,0,1,1,-0.333,0Z", "M-1,-0.018H1V0.018H-1Z", "M-1,-0.018H-0.47V0.018H-1ZM0.47,-0.018H1V0.018H0.47Z"]}, "legend": {"title": ["RUN_3ZG", "Obs Point Head-12"], "orient": "none", "legendX": 182, "legendY": 78, "rowPadding": 13, "labelOffset": 22}}}}
 ]},
{"width": 492, "height": 228, "title": {"text": "E)", "offset": 2},
 "encoding": {"x": {"field": "t", "type": "quantitative", "scale": {"domain": [0, 2200], "nice": false}, "axis": {"values": [0,200,400,600,800,1000,1200,1400,1600,1800,2000,2200], "format": "d", "title": "Time (days)"}}, "y": {"field": "h", "type": "quantitative", "scale": {"domain": [-100, 0], "nice": false}, "axis": {"values": [-100,-90,-80,-70,-60,-50,-40,-30,-20,-10,0], "format": "d", "title": "Groundwater Head (m)"}}},
 "layer": [
  {"data": {"name": "E_mod"}, "mark": {"type": "line", "color": "black", "strokeWidth": 1}},
  {"data": {"name": "E_obs"}, "mark": {"type": "point", "filled": true, "color": "black", "size": 441, "opacity": 1},
   "encoding": {"shape": {"datum": "KAS_08 (503-601)", "type": "nominal", "scale": {"domain": ["KAS_08 (503-601)", "Node 2629"], "range": ["M-0.333,0A0.333,0.333,0,1,1,0.333,0A0.333,0.333,0,1,1,-0.333,0Z", "M-1,-0.018H1V0.018H-1Z"]}, "legend": {"title": ["RUN_3ZG", "Obs Point Head-13"], "orient": "none", "legendX": 46, "legendY": 83, "rowPadding": 10, "labelOffset": 19}}}}
 ]},
{"width": 492, "height": 228, "title": {"text": "F)", "offset": 2},
 "encoding": {"x": {"field": "t", "type": "quantitative", "scale": {"domain": [0, 2200], "nice": false}, "axis": {"values": [0,200,400,600,800,1000,1200,1400,1600,1800,2000,2200], "format": "d", "title": "Time (days)"}}, "y": {"field": "h", "type": "quantitative", "scale": {"domain": [-100, 0], "nice": false}, "axis": {"values": [-100,-90,-80,-70,-60,-50,-40,-30,-20,-10,0], "format": "d", "title": "Groundwater Head (m)"}}},
 "layer": [
  {"data": {"name": "F_mod"}, "mark": {"type": "line", "color": "black", "strokeWidth": 1}},
  {"data": {"name": "F_obs"}, "mark": {"type": "point", "filled": true, "color": "black", "size": 441, "opacity": 1},
   "encoding": {"shape": {"datum": "KAS_09 (0-115)", "type": "nominal", "scale": {"domain": ["KAS_09 (0-115)", "Node 4471"], "range": ["M-0.333,0A0.333,0.333,0,1,1,0.333,0A0.333,0.333,0,1,1,-0.333,0Z", "M-1,-0.018H1V0.018H-1Z"]}, "legend": {"title": ["RUN_3ZG", "Obs Point Head-14"], "orient": "none", "legendX": 46, "legendY": 75, "rowPadding": 12, "labelOffset": 19}}}}
 ]},
{"width": 492, "height": 228, "title": {"text": "G)", "offset": -4},
 "encoding": {"x": {"field": "t", "type": "quantitative", "scale": {"domain": [0, 2200], "nice": false}, "axis": {"values": [0,200,400,600,800,1000,1200,1400,1600,1800,2000,2200], "format": "d", "title": "Time (days)"}}, "y": {"field": "h", "type": "quantitative", "scale": {"domain": [-100, 0], "nice": false}, "axis": {"values": [-100,-90,-80,-70,-60,-50,-40,-30,-20,-10,0], "format": "d", "title": "Groundwater Head (m)"}}},
 "layer": [
  {"data": {"name": "G_mod"}, "mark": {"type": "line", "color": "black", "strokeWidth": 1}},
  {"data": {"name": "G_obs"}, "mark": {"type": "point", "filled": true, "color": "black", "size": 441, "opacity": 1},
   "encoding": {"shape": {"datum": "KAS_14 (0-130)", "type": "nominal", "scale": {"domain": ["KAS_14 (0-130)", "Node 4908"], "range": ["M-0.333,0A0.333,0.333,0,1,1,0.333,0A0.333,0.333,0,1,1,-0.333,0Z", "M-1,-0.018H1V0.018H-1Z"]}, "legend": {"title": ["RUN_3ZG", "Obs Point Head-15"], "orient": "none", "legendX": 45, "legendY": 73, "rowPadding": 12, "labelOffset": 19}}}}
 ]},
{"width": 492, "height": 228, "title": {"text": "H)", "offset": -4},
 "data": {"name": "H"},
 "encoding": {"x": {"field": "t", "type": "quantitative", "scale": {"domain": [0, 800], "nice": false}, "axis": {"values": [0,100,200,300,400,500,600,700,800], "format": "d", "title": "Time (days)"}}, "y": {"field": "h", "type": "quantitative", "scale": {"domain": [-5, 20], "nice": false}, "axis": {"values": [-5,0,5,10,15,20], "format": "d", "title": "Groundwater Head (m)"}}},
 "layer": [
  {"mark": {"type": "line", "color": "black", "strokeWidth": 1}, "encoding": {"detail": {"field": "s"}}},
  {"transform": [{"filter": "datum.s == 'dh_abs' && datum.t % 30 == 0"}], "mark": {"type": "point", "shape": "M-1,0H1M0,-1V1", "size": 144, "filled": false, "stroke": "black", "strokeWidth": 1, "opacity": 1}},
  {"transform": [{"filter": "datum.s == 'Dh' && datum.t % 30 == 0"}], "mark": {"type": "point", "shape": "M-1,0.87L0,-0.87L1,0.87Z", "size": 196, "filled": false, "fill": "white", "stroke": "black", "strokeWidth": 1, "opacity": 1}},
  {"transform": [{"filter": "datum.t < 0"}], "mark": {"type": "point", "filled": true, "color": "black", "opacity": 1},
   "encoding": {"shape": {"field": "s", "type": "nominal", "scale": {"domain": ["dh", "dh_abs", "Dh"], "range": ["M-1,-0.02H1V0.02H-1Z", "M-1,-0.02H1V0.02H-1ZM-0.02,-0.36H0.02V0.36H-0.02Z", "M-1,-0.02H-0.17V0.02H-1ZM0.17,-0.02H1V0.02H0.17ZM-0.34,0.36L0,-0.36L0.34,0.36ZM-0.27,0.32L0.27,0.32L0,-0.25Z"]}, "legend": {"title": "RUN_3ZG (Residuals)", "orient": "none", "titleAnchor": "start", "titleFontSize": 15, "labelFontSize": 16, "symbolSize": 2500, "clipHeight": 20, "rowPadding": 8, "titlePadding": 31, "labelOffset": 17, "legendX": 149, "legendY": 2}}}}
 ]}
],
"config": {
  "font": "Liberation Sans",
  "view": {"stroke": null},
  "locale": {"number": {"decimal": ".", "thousands": ",", "grouping": [3], "currency": ["$", ""], "minus": "-"}},
  "axis": {"grid": false, "domainColor": "black", "domainWidth": 1, "tickColor": "black", "tickWidth": 1, "tickSize": 15, "labelFont": "Liberation Sans", "labelFontSize": 17, "labelColor": "black", "titleFont": "Liberation Sans", "titleFontWeight": "normal", "titleColor": "black", "labelFlush": false, "labelOverlap": false, "labelPadding": 15},
  "axisX": {"titleFontSize": 24, "titlePadding": 4, "labelPadding": 16},
  "axisY": {"titleFontSize": 22, "titlePadding": 36},
  "title": {"font": "Roboto", "fontSize": 31, "fontWeight": 900, "anchor": "start", "color": "black"},
  "legend": {"orient": "none", "symbolSize": 3600, "clipHeight": 22, "labelFont": "Liberation Sans", "labelFontSize": 19, "labelColor": "black", "labelLimit": 400, "titleFont": "Liberation Sans", "titleFontSize": 19, "titleFontWeight": "normal", "titleColor": "black", "titleAnchor": "middle", "titleLimit": 400, "titleLineHeight": 19, "titlePadding": 19, "symbolFillColor": "black", "symbolStrokeWidth": 0, "symbolOpacity": 1, "padding": 0}
}
}
